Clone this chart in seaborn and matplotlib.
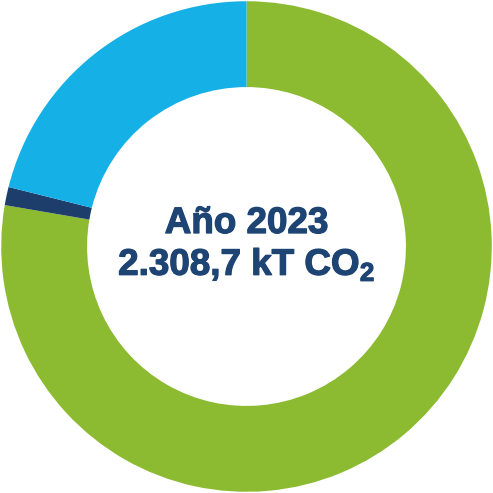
import matplotlib
matplotlib.use("Agg")
import matplotlib.pyplot as plt
import matplotlib.patheffects as pe
import seaborn as sns

# Emission shares (percent), read clockwise from 12 o'clock
categories = ['Verde', 'Azul oscuro', 'Azul claro']
shares = [77.7, 1.2, 21.1]
colors = ['#8cbb32', '#1d3d6b', '#15b0e6']

sns.set_theme(style="white")
plt.rcParams['font.family'] = ['Liberation Sans', 'DejaVu Sans']
plt.rcParams['mathtext.fontset'] = 'custom'
plt.rcParams['mathtext.rm'] = 'Liberation Sans'
plt.rcParams['mathtext.bf'] = 'Liberation Sans:bold'

fig = plt.figure(figsize=(4.93, 4.93), dpi=100)
ax = fig.add_axes([0, 0, 1, 1])

ax.pie(shares, colors=sns.color_palette(colors), startangle=90, counterclock=False,
       radius=1.0, wedgeprops=dict(width=0.35, edgecolor='none'))

txt_color = '#1e4474'
# thin stroke to thicken the bold letters a little
heavy = [pe.withStroke(linewidth=0.9, foreground=txt_color)]
ax.text(0, 0.055, 'Año 2023', ha='center', va='baseline', fontsize=26.5,
        fontweight='bold', color=txt_color, path_effects=heavy)
ax.text(0, -0.116, '2.308,7 kT CO$_\\mathbf{2}$', ha='center', va='baseline', fontsize=26.5,
        fontweight='bold', color=txt_color, path_effects=heavy)

ax.set_xlim(-1.005, 1.005)
ax.set_ylim(-1.005, 1.005)
ax.set_aspect('equal')
ax.axis('off')

plt.savefig("out.png", dpi=100)
